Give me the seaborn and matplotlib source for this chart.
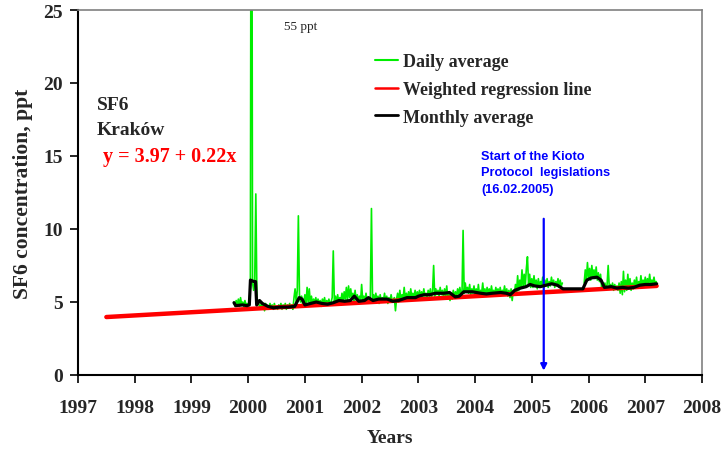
import numpy as np
import pandas as pd
import matplotlib
matplotlib.use("Agg")
import matplotlib.pyplot as plt
from matplotlib.lines import Line2D
import seaborn as sns

# ---------------- data ----------------
# daily average, sampled weekly from 1999.75 (NaN = no measurements)
daily_start = 1999.75
daily_step = 1 / 52
daily_values = [
    5.0, 4.7, 5.1, 4.8, 5.2, 4.7, 5.3, 4.8, 5.0, 4.7, 5.1, 4.8, 4.9,
    4.8, 5.0, 6.0, 55.0, 6.3, 5.8, 6.4, 12.4, 5.3, 5.0,
    4.8, 4.5, 4.9, 4.6, 4.8, 4.4, 4.9, 4.6, 4.7, 4.5, 4.9, 4.6, 4.8, 4.5, 4.9, 4.6,
    4.7, 4.5, 4.8, 4.6, 4.9, 4.5, 4.8, 4.6, 4.9, 4.5, 4.8, 4.6, 4.9, 4.6, 4.8, 4.5,
    5.3, 5.9, 5.0, 5.8, 10.9, 5.5, 5.0, 5.4, 4.8,
    5.0, 5.5, 4.8, 6.0, 5.0, 5.9, 4.9, 5.4,
    4.8, 5.2, 4.9, 5.3, 4.8, 5.2, 4.9, 5.1, 4.7, 5.2, 4.9, 5.3, 4.8, 5.1, 4.9, 5.2, 4.8,
    5.0, 5.3, 8.5,
    5.0, 5.4, 4.9, 5.5, 5.0, 5.3, 5.1, 5.6, 5.0, 5.7, 5.2, 6.0, 5.1, 6.1, 5.3, 5.9,
    5.2, 5.6, 5.0,
    5.8, 5.1, 5.5, 5.0, 5.4, 5.0, 6.2, 5.1, 5.4, 5.0,
    5.6, 5.1, 5.3, 5.0, 5.4, 11.4,
    5.1, 5.5, 5.0, 5.6, 5.1, 5.4, 4.9, 5.5, 5.0, 5.3, 5.1, 5.6, 5.0, 5.4, 4.9, 5.3,
    5.0, 5.5, 5.1,
    5.0, 5.3, 4.4,
    5.2, 5.6, 5.0, 5.8, 5.1, 5.5, 5.2, 6.0, 5.2, 5.6, 5.1, 5.7, 5.2, 5.9, 5.3, 5.6,
    5.2, 5.8, 5.3, 5.7,
    5.3, 5.8, 5.4, 5.7, 5.3, 5.9, 5.4, 5.6, 5.3, 5.8, 5.4, 5.9, 5.3, 5.7, 7.5,
    5.4, 5.9, 5.5, 5.8, 5.4, 6.0, 5.5, 5.8, 5.3, 5.9, 5.4, 6.1, 5.2, 5.7, 5.1, 5.6,
    5.2, 5.8, 5.3, 5.7, 5.4, 5.9, 5.5, 6.0, 5.5, 5.6, 9.9,
    5.6, 6.3, 5.7, 6.0, 5.6, 6.2, 5.5, 5.9, 5.6, 6.1, 5.5, 5.9, 5.4, 6.2, 5.5, 5.8,
    5.6, 6.3, 5.5, 5.9, 5.4, 6.0, 5.6, 5.9, 5.5, 6.1, 5.6, 5.8, 5.5, 6.0, 5.6, 5.9,
    5.4, 6.0, 5.5, 5.8, 5.6, 6.1, 5.5, 5.9, 5.4, 5.8, 5.3, 5.9, 5.1, 5.8, 5.5,
    6.2, 5.7, 6.8, 5.8, 6.5, 6.0, 7.2, 6.0, 6.9, 6.1, 7.3, 8.1,
    6.2, 6.9, 6.0, 6.6, 6.0, 6.8, 6.1, 6.5, 5.9, 6.6, 6.0, 6.4, 6.1, 6.7, 6.0, 6.5,
    6.1, 6.6, 6.0, 6.4, 6.1, 6.7, 6.2, 6.5, 6.0, 6.4, 6.1, 6.6, 6.0, 6.5, 6.1, 6.3,
    np.nan, np.nan, np.nan, np.nan, np.nan, np.nan, np.nan, np.nan, np.nan, np.nan,
    np.nan, np.nan, np.nan, np.nan, np.nan, np.nan, np.nan, np.nan, np.nan,
    6.3, 7.2, 6.5, 7.7, 6.6, 7.3, 6.5, 7.5, 6.7, 7.2, 6.6, 7.4, 6.5, 7.0, 6.4, 6.9,
    6.0, 6.3,
    6.0, 6.3, 5.9, 6.2, 7.5, 6.0, 6.2, 5.9, 6.3, 5.8, 6.2, 5.9, 6.1, 5.8, 6.3,
    5.6, 6.4, 5.5, 7.1, 5.7, 6.5, 5.8, 6.9, 5.9, 6.6, 5.8, 6.3, 5.9, 6.5, 6.0, 6.7,
    6.0, 6.4, 6.1, 6.8, 6.1, 6.5, 6.2, 6.7, 6.1, 6.6, 6.2, 6.9, 6.2, 6.5, 6.3, 6.7,
    6.2, 6.4,
]

monthly_years = [
    1999.75, 1999.78, 1999.90, 1999.98, 2000.02, 2000.04, 2000.10, 2000.13, 2000.15,
    2000.20, 2000.25, 2000.35, 2000.45, 2000.55, 2000.70, 2000.82, 2000.90, 2000.95,
    2001.00, 2001.10, 2001.20, 2001.30, 2001.40, 2001.50, 2001.60, 2001.70, 2001.80,
    2001.87, 2001.95, 2002.05, 2002.12, 2002.20, 2002.30, 2002.45, 2002.55, 2002.65,
    2002.80, 2002.95, 2003.00, 2003.10, 2003.20, 2003.30, 2003.45, 2003.55, 2003.65,
    2003.72, 2003.80, 2003.95, 2004.10, 2004.20, 2004.30, 2004.45, 2004.55, 2004.62,
    2004.70, 2004.80, 2004.90, 2004.97, 2005.05, 2005.15, 2005.25, 2005.35, 2005.45,
    2005.55, 2005.90, 2005.97, 2006.05, 2006.15, 2006.22, 2006.28, 2006.40, 2006.50,
    2006.60, 2006.70, 2006.80, 2006.90, 2007.00, 2007.10, 2007.20,
]
monthly_values = [
    4.95, 4.75, 4.80, 4.75, 4.80, 6.50, 6.40, 6.40, 4.80,
    5.10, 4.90, 4.70, 4.60, 4.65, 4.65, 4.70, 5.30, 5.20,
    4.80, 4.90, 5.00, 4.90, 4.85, 4.95, 5.10, 5.05, 5.10,
    5.40, 5.05, 5.10, 5.30, 5.10, 5.20, 5.20, 5.05, 5.10,
    5.30, 5.30, 5.40, 5.50, 5.50, 5.60, 5.60, 5.65, 5.35,
    5.40, 5.70, 5.70, 5.60, 5.55, 5.60, 5.65, 5.60, 5.50,
    5.80, 5.95, 6.05, 6.20, 6.10, 6.05, 6.15, 6.25, 6.15,
    5.90, 5.90, 6.50, 6.65, 6.70, 6.50, 6.00, 6.05, 5.95,
    6.00, 5.95, 6.00, 6.15, 6.20, 6.20, 6.25,
]

regression_years = [1997.5, 2007.2]
regression_values = [3.97, 6.10]

kioto_year = 2005.21
kioto_arrow_top = 10.7
kioto_arrow_bottom = 0.3

x_ticks = list(range(1997, 2009))
y_ticks = [0, 5, 10, 15, 20, 25]

# ---------------- build frames ----------------
assert len(daily_values) == 388, len(daily_values)
daily_years = daily_start + np.arange(len(daily_values)) * daily_step
daily_df = pd.DataFrame({"year": daily_years, "value": daily_values})
daily_df["seg"] = np.cumsum(daily_df["value"].isna().astype(int))
daily_df = daily_df.dropna()
monthly_df = pd.DataFrame({"year": monthly_years, "value": monthly_values})
reg_df = pd.DataFrame({"year": regression_years, "value": regression_values})

# ---------------- plot ----------------
sns.set_style("ticks")
plt.rcParams["font.family"] = ["Liberation Serif", "DejaVu Serif"]

fig = plt.figure(figsize=(7.25, 4.52), dpi=100)
ax = fig.add_axes([78 / 725, 76 / 452, 624 / 725, 365 / 452])

GREEN = "#00ee00"
RED = "#ff0000"

sns.lineplot(data=daily_df, x="year", y="value", units="seg", estimator=None,
             sort=False, color=GREEN, linewidth=1.2, ax=ax, zorder=2)
sns.lineplot(data=reg_df, x="year", y="value", estimator=None, sort=False,
             color=RED, linewidth=3.2, ax=ax, zorder=3)
sns.lineplot(data=monthly_df, x="year", y="value", estimator=None, sort=False,
             color="black", linewidth=2.3, ax=ax, zorder=4)

ax.set_xlim(1997, 2008)
ax.set_ylim(0, 25)
ax.set_xticks(x_ticks)
ax.set_yticks(y_ticks)
ax.set_xticklabels([str(t) for t in x_ticks], fontsize=14, fontweight="bold")
ax.set_yticklabels([str(t) for t in y_ticks], fontsize=14, fontweight="bold")
ax.tick_params(axis="x", direction="out", length=6, width=1.2, pad=11, color="black")
ax.tick_params(axis="y", direction="out", length=6, width=1.2, pad=5, color="black")

for side in ["left", "bottom"]:
    ax.spines[side].set_color("black")
    ax.spines[side].set_linewidth(1.5)
for side in ["top", "right"]:
    ax.spines[side].set_visible(True)
    ax.spines[side].set_color("#808080")
    ax.spines[side].set_linewidth(1.2)

ax.set_xlabel("Years", fontsize=14, fontweight="bold", labelpad=10)
ax.set_ylabel("SF6 concentration, ppt", fontsize=15.5, fontweight="bold", labelpad=7)

# annotations
ax.text(0.030, 0.741, "SF6", transform=ax.transAxes, fontsize=14,
        fontweight="bold", va="center", ha="left")
ax.text(0.030, 0.672, "Krak\u00f3w", transform=ax.transAxes, fontsize=14,
        fontweight="bold", va="center", ha="left")
ax.text(0.040, 0.599, "y = 3.97 + 0.22x", transform=ax.transAxes, fontsize=14.5,
        fontweight="bold", color=RED, va="center", ha="left")
ax.text(0.357, 0.955, "55 ppt", transform=ax.transAxes, fontsize=9.5,
        va="center", ha="center")

ax.annotate("", xy=(kioto_year, kioto_arrow_bottom), xytext=(kioto_year, kioto_arrow_top),
            arrowprops=dict(arrowstyle="-|>", color="#0000ff", lw=1.6,
                            mutation_scale=9, shrinkA=0, shrinkB=0))
ax.text(0.646, 0.556, "Start of the Kioto\nProtocol  legislations\n(16.02.2005)",
        transform=ax.transAxes, fontsize=9.2, fontweight="bold", color="#0000ff",
        family=["Liberation Sans", "DejaVu Sans"], va="center", ha="left",
        linespacing=1.5)

handles = [
    Line2D([], [], color=GREEN, lw=1.5),
    Line2D([], [], color=RED, lw=1.8),
    Line2D([], [], color="black", lw=2.0),
]
labels = ["Daily average", "Weighted regression line", "Monthly average"]
ax.legend(handles, labels, loc="upper left", bbox_to_anchor=(0.476, 0.882),
          frameon=False, handlelength=1.3, handletextpad=0.25, labelspacing=0.6,
          prop={"family": "Liberation Serif", "weight": "bold", "size": 13},
          borderaxespad=0, borderpad=0)

fig.savefig("out.png", dpi=100)
